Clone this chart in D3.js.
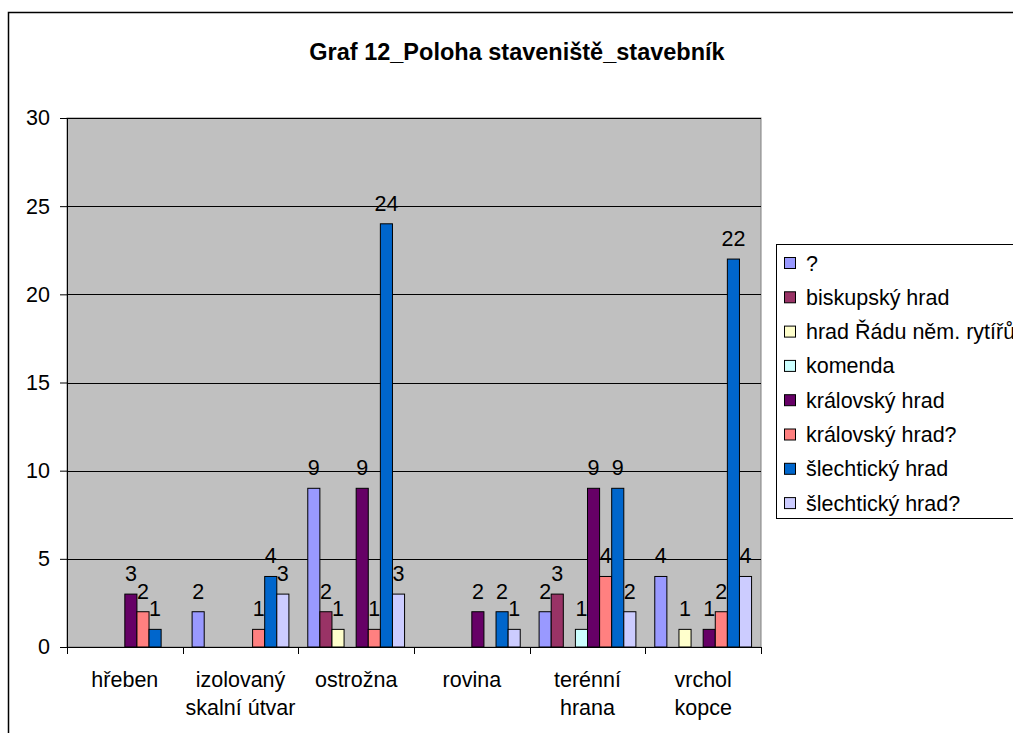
<!DOCTYPE html>
<html>
<head>
<meta charset="utf-8">
<script src="https://cdn.jsdelivr.net/npm/d3@7"></script>
<style>
  html, body { margin: 0; padding: 0; background: #fff; overflow: hidden; }
  svg text { font-family: "Liberation Sans", Arial, sans-serif; fill: #000; }
</style>
</head>
<body>
<svg id="chart" width="1013" height="733"></svg>
<script>
// Site position categories (label lines as shown under the axis)
const categories = ["hřeben", "izolovaný skalní útvar", "ostrožna", "rovina", "terénní hrana", "vrchol kopce"];
const categoryLines = [["hřeben"], ["izolovaný", "skalní útvar"], ["ostrožna"], ["rovina"], ["terénní", "hrana"], ["vrchol", "kopce"]];

// Builder series
const series = ["?", "biskupský hrad", "hrad Řádu něm. rytířů", "komenda", "královský hrad", "královský hrad?", "šlechtický hrad", "šlechtický hrad?"];
const seriesColors = ["#9999FF", "#993366", "#FFFFCC", "#CCFFFF", "#660066", "#FF8080", "#0066CC", "#CCCCFF"];

// Counts per series, one value per category (0 = no castle of that kind)
const unknown      = [0, 2, 9, 0, 2, 4];
const bishop       = [0, 0, 2, 0, 3, 0];
const teutonic     = [0, 0, 1, 0, 0, 1];
const commandery   = [0, 0, 0, 0, 1, 0];
const royal        = [3, 0, 9, 2, 9, 1];
const royalMaybe   = [2, 1, 1, 0, 4, 2];
const noble        = [1, 4, 24, 2, 9, 22];
const nobleMaybe   = [0, 3, 3, 1, 2, 4];
const seriesValues = [unknown, bishop, teutonic, commandery, royal, royalMaybe, noble, nobleMaybe];

const yTicks = [0, 5, 10, 15, 20, 25, 30];
const title = "Graf 12_Poloha staveniště_stavebník";

const svg = d3.select("#chart");
const plot = { left: 67, right: 761, top: 118, bottom: 647 };
const FS = "21.5px";

// Chart area frame
svg.append("rect")
  .attr("x", 8.5).attr("y", 12.5)
  .attr("width", 1200).attr("height", 900)
  .attr("fill", "#fff").attr("stroke", "#000").attr("stroke-width", 1.5);

// Title
svg.append("text")
  .attr("x", 517).attr("y", 60)
  .attr("text-anchor", "middle")
  .style("font-size", "23.5px").style("font-weight", "bold")
  .text(title);

const x0 = d3.scaleBand().domain(categories).range([plot.left, plot.right]).padding(0);
const x1 = d3.scaleBand().domain(series).range([0, x0.bandwidth()]).paddingInner(0).paddingOuter(0.78);
const y = d3.scaleLinear().domain([0, 30]).range([plot.bottom, plot.top]);

// Plot background
svg.append("rect")
  .attr("x", plot.left).attr("y", plot.top)
  .attr("width", plot.right - plot.left).attr("height", plot.bottom - plot.top)
  .attr("fill", "#C0C0C0").attr("stroke", "#808080").attr("stroke-width", 1);

// Gridlines
svg.append("g").selectAll("line")
  .data(yTicks.filter(t => t > 0))
  .join("line")
  .attr("x1", plot.left).attr("x2", plot.right)
  .attr("y1", d => Math.round(y(d)) + 0.5).attr("y2", d => Math.round(y(d)) + 0.5)
  .attr("stroke", "#000").attr("stroke-width", 1);

// Flatten data to one record per bar
const bars = [];
categories.forEach((c, ci) => {
  series.forEach((s, si) => {
    bars.push({ cat: c, ser: s, si, value: seriesValues[si][ci] });
  });
});
const shown = bars.filter(d => d.value > 0);

svg.append("g").selectAll("rect")
  .data(shown)
  .join("rect")
  .attr("x", d => x0(d.cat) + x1(d.ser))
  .attr("y", d => y(d.value))
  .attr("width", x1.bandwidth())
  .attr("height", d => y(0) - y(d.value))
  .attr("fill", d => seriesColors[d.si])
  .attr("stroke", "#000").attr("stroke-width", 1);

// Value labels
svg.append("g").selectAll("text")
  .data(shown)
  .join("text")
  .attr("x", d => x0(d.cat) + x1(d.ser) + x1.bandwidth() / 2)
  .attr("y", d => y(d.value) - 13)
  .attr("text-anchor", "middle")
  .style("font-size", FS)
  .text(d => d.value);

// Y axis
const yAxis = svg.append("g")
  .attr("transform", `translate(${plot.left},0)`)
  .call(d3.axisLeft(y).tickValues(yTicks).tickSize(7).tickPadding(10).tickFormat(d3.format("d")));
yAxis.select(".domain").attr("stroke", "#000");
yAxis.selectAll(".tick line").attr("stroke", "#000");
yAxis.selectAll("text").style("font-size", FS).style("font-family", "'Liberation Sans', Arial, sans-serif").attr("fill", "#000");

// X axis line and category boundary ticks
svg.append("line")
  .attr("x1", plot.left).attr("x2", plot.right)
  .attr("y1", plot.bottom + 0.5).attr("y2", plot.bottom + 0.5)
  .attr("stroke", "#000");
const bounds = categories.map(c => x0(c)).concat([x0(categories[categories.length - 1]) + x0.bandwidth()]);
svg.append("g").selectAll("line")
  .data(bounds)
  .join("line")
  .attr("x1", d => Math.round(d) + 0.5).attr("x2", d => Math.round(d) + 0.5)
  .attr("y1", plot.bottom).attr("y2", plot.bottom + 7)
  .attr("stroke", "#000");

// Category labels
const catLabels = svg.append("g").selectAll("text")
  .data(categories)
  .join("text")
  .attr("x", d => x0(d) + x0.bandwidth() / 2)
  .attr("y", 687)
  .attr("text-anchor", "middle")
  .style("font-size", FS);
catLabels.each(function(d, i) {
  d3.select(this).selectAll("tspan")
    .data(categoryLines[i])
    .join("tspan")
    .attr("x", x0(d) + x0.bandwidth() / 2)
    .attr("dy", (t, j) => j === 0 ? 0 : 28)
    .text(t => t);
});

// Legend
const legend = svg.append("g");
legend.append("rect")
  .attr("x", 776.5).attr("y", 244.5)
  .attr("width", 400).attr("height", 274)
  .attr("fill", "#fff").attr("stroke", "#000").attr("stroke-width", 1);
const items = legend.selectAll("g.item")
  .data(series)
  .join("g")
  .attr("class", "item")
  .attr("transform", (d, i) => `translate(784, ${263 + i * 34.3})`);
items.append("rect")
  .attr("x", 0.5).attr("y", -5.5)
  .attr("width", 11).attr("height", 11)
  .attr("fill", (d, i) => seriesColors[i])
  .attr("stroke", "#000").attr("stroke-width", 1);
items.append("text")
  .attr("x", 22).attr("y", 7.5)
  .style("font-size", FS)
  .text(d => d);
</script>
</body>
</html>
